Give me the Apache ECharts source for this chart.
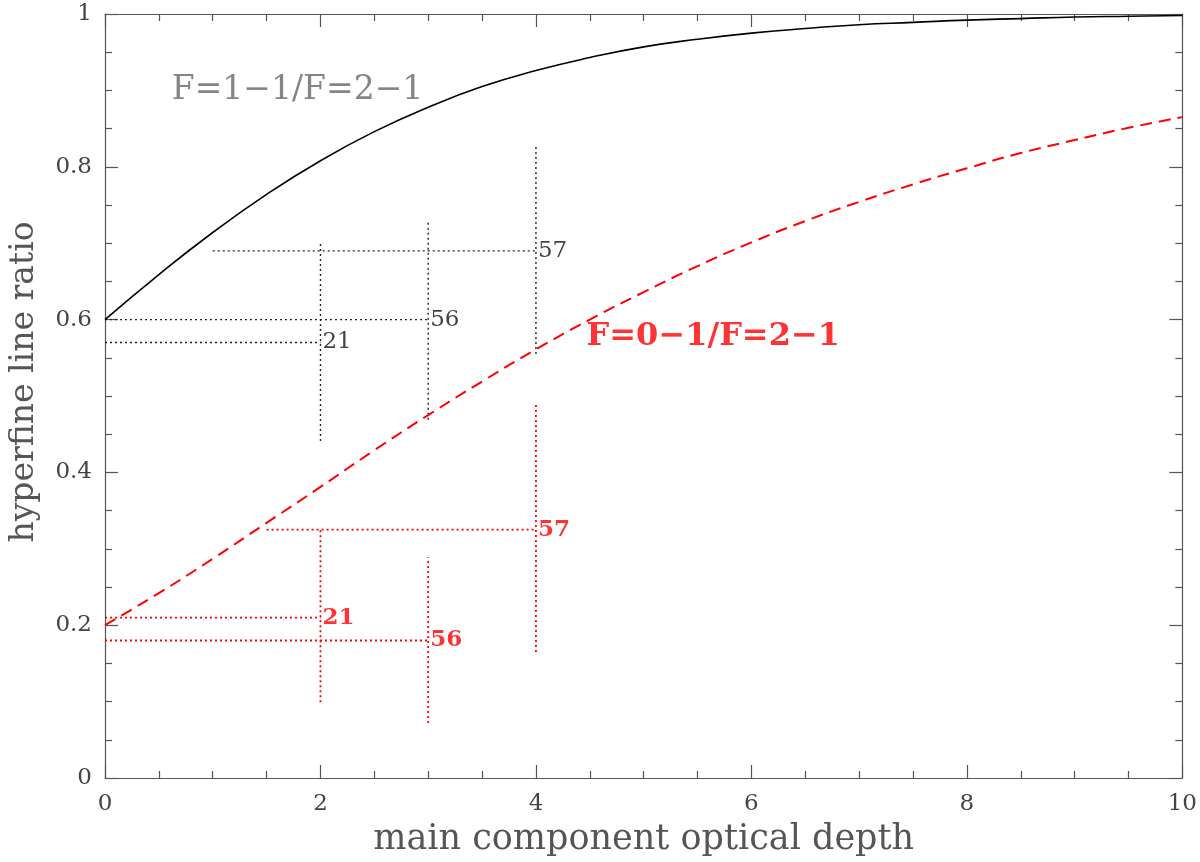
<!DOCTYPE html>
<html>
<head>
<meta charset="utf-8">
<title>hyperfine line ratio</title>
<script src="https://cdn.jsdelivr.net/npm/echarts@6/dist/echarts.min.js"></script>
<style>
  html, body { margin: 0; padding: 0; background: #fff; }
  #chart { width: 1200px; height: 862px; }
</style>
</head>
<body>
<div id="chart"></div>
<script>
// main component optical depth
const tau = [0, 0.5, 1, 1.5, 2, 2.5, 3, 3.5, 4, 4.5, 5, 5.5, 6, 6.5, 7, 7.5, 8, 8.5, 9, 9.5, 10]
// F=1-1/F=2-1 (solid black)
const ratio11 = [0.600, 0.659, 0.714, 0.764, 0.808, 0.846, 0.878, 0.905, 0.926, 0.943, 0.957,
  0.967, 0.975, 0.981, 0.986, 0.989, 0.992, 0.994, 0.996, 0.997, 0.998]
// F=0-1/F=2-1 (dashed red)
const ratio01 = [0.200, 0.242, 0.287, 0.334, 0.381, 0.429, 0.475, 0.519, 0.561, 0.600, 0.636,
  0.670, 0.701, 0.729, 0.754, 0.777, 0.798, 0.818, 0.835, 0.851, 0.865]

const curveNames = ['F=1\u22121/F=2\u22121', 'F=0\u22121/F=2\u22121']
const curveNameX = [0.62, 4.47]
const curveNameY = [0.90, 0.578]

// measured points, black (F=1-1) crosses
const blackLabels = ['21', '56', '57']
const blackX = [2, 3, 4]
const blackY = [0.57, 0.60, 0.69]
const blackXFrom = [0, 0, 1]
const blackYLow = [0.441, 0.469, 0.555]
const blackYHigh = [0.70, 0.728, 0.829]

// measured points, red (F=0-1) crosses
const redLabels = ['21', '56', '57']
const redX = [2, 3, 4]
const redY = [0.21, 0.18, 0.325]
const redXFrom = [0, 0, 1.5]
const redYLow = [0.099, 0.072, 0.165]
const redYHigh = [0.325, 0.289, 0.49]

const xTicks = [0, 2, 4, 6, 8, 10]
const yTicks = [0, 0.2, 0.4, 0.6, 0.8, 1]

const FONT = 'DejaVu Serif'
const AXIS_COLOR = '#555'

function frameAxis(extra) {
  return Object.assign({
    type: 'value',
    axisLine: { show: true, onZero: false, lineStyle: { color: AXIS_COLOR, width: 1.2 } },
    axisTick: { show: true, inside: true, length: 13, lineStyle: { color: AXIS_COLOR, width: 1.2 } },
    minorTick: { show: true, splitNumber: 4, length: 7, lineStyle: { color: AXIS_COLOR, width: 1.2 } },
    splitLine: { show: false },
    minorSplitLine: { show: false }
  }, extra)
}

function crossSeries(labels, xs, ys, xFrom, yLow, yHigh, color, width) {
  const out = []
  for (let i = 0; i < labels.length; i++) {
    const style = { color: color, width: width, type: [2, 3] }
    out.push({
      type: 'line',
      data: [[xFrom[i], ys[i]], [xs[i], ys[i]]],
      symbol: 'none',
      lineStyle: style,
      z: 3
    })
    out.push({
      type: 'line',
      data: [[xs[i], yLow[i]], [xs[i], yHigh[i]]],
      symbol: 'none',
      lineStyle: style,
      z: 3
    })
  }
  return out
}

function labelSeries(labels, xs, ys, textStyle) {
  return {
    type: 'scatter',
    symbolSize: 0,
    data: labels.map((t, i) => [xs[i], ys[i], t]),
    label: Object.assign({
      show: true,
      position: 'right',
      distance: 2,
      formatter: p => p.value[2]
    }, textStyle),
    z: 5
  }
}

const chart = echarts.init(document.getElementById('chart'), null, { renderer: 'canvas' })

chart.setOption({
  animation: false,
  backgroundColor: '#fff',
  grid: { left: 103, right: 17, top: 14, bottom: 83 },
  xAxis: [
    frameAxis({
      min: 0,
      max: 10,
      interval: 2,
      position: 'bottom',
      axisLabel: {
        margin: 15,
        fontFamily: FONT,
        fontSize: 23,
        color: '#444',
        formatter: v => xTicks.indexOf(v) >= 0 ? String(v) : ''
      },
      name: 'main component optical depth',
      nameLocation: 'middle',
      nameGap: 44,
      nameTextStyle: { fontFamily: FONT, fontSize: 35, color: '#555' }
    }),
    frameAxis({ min: 0, max: 10, interval: 2, position: 'top', axisLabel: { show: false } })
  ],
  yAxis: [
    frameAxis({
      min: 0,
      max: 1,
      interval: 0.2,
      position: 'left',
      axisLabel: {
        margin: 13,
        fontFamily: FONT,
        fontSize: 23,
        color: '#444',
        formatter: v => {
          const t = yTicks.find(k => Math.abs(k - v) < 1e-9)
          return t === undefined ? '' : String(t)
        }
      },
      name: 'hyperfine line ratio',
      nameLocation: 'middle',
      nameGap: 64,
      nameRotate: 90,
      nameTextStyle: { fontFamily: FONT, fontSize: 33, color: '#555', padding: [0, 0, 0, 28] }
    }),
    frameAxis({ min: 0, max: 1, interval: 0.2, position: 'right', axisLabel: { show: false } })
  ],
  series: [
    {
      type: 'line',
      data: tau.map((t, i) => [t, ratio11[i]]),
      smooth: true,
      symbol: 'none',
      lineStyle: { color: '#000', width: 1.6 },
      z: 4
    },
    {
      type: 'line',
      data: tau.map((t, i) => [t, ratio01[i]]),
      smooth: true,
      symbol: 'none',
      lineStyle: { color: '#ff0000', width: 2, type: [12, 7] },
      z: 4
    },
    ...crossSeries(blackLabels, blackX, blackY, blackXFrom, blackYLow, blackYHigh, '#222', 1.4),
    ...crossSeries(redLabels, redX, redY, redXFrom, redYLow, redYHigh, '#ff0000', 1.8),
    labelSeries(blackLabels, blackX, blackY, { fontFamily: FONT, fontSize: 23, color: '#111' }),
    labelSeries(redLabels, redX, redY, { fontFamily: FONT, fontSize: 23, fontWeight: 'bold', color: '#ff0000' }),
    labelSeries([curveNames[0]], [curveNameX[0]], [curveNameY[0]],
      { fontFamily: FONT, fontSize: 33, color: '#666', distance: 0 }),
    labelSeries([curveNames[1]], [curveNameX[1]], [curveNameY[1]],
      { fontFamily: FONT, fontSize: 32, fontWeight: 'bold', color: '#ff0000', distance: 0 })
  ]
})
</script>
</body>
</html>
